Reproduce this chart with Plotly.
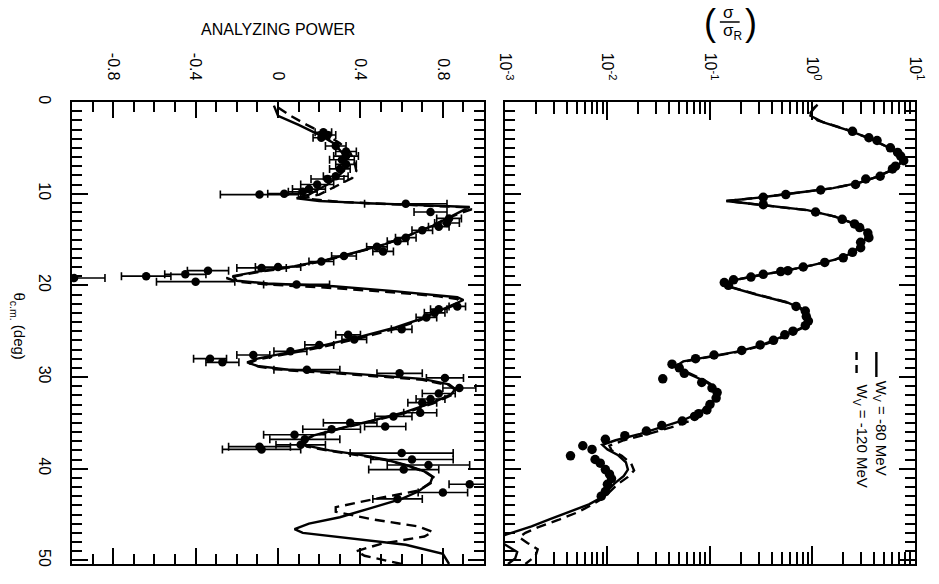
import plotly.graph_objects as go

# ---------------- data ----------------
# Cross section ratio sigma/sigma_R : theta (deg) and log10(sigma/sigma_R)
xs_data_theta = [3.2, 3.9, 4.2, 5.0, 5.5, 5.9, 6.4, 7.0, 7.3, 8.1, 8.4, 9.0, 9.6, 10.1, 10.4,
                 11.2, 12.0, 12.8, 13.3, 13.7, 14.3, 14.8, 15.3, 15.9, 16.4, 17.0, 17.5, 18.0,
                 18.4, 18.5, 18.8, 19.1, 19.4, 19.7, 20.0, 22.3, 22.8, 23.4, 23.9, 24.4, 25.0,
                 25.4, 26.0, 26.5, 27.1, 27.6, 28.0, 28.6, 29.0, 29.6, 30.2, 30.6, 31.2, 31.7,
                 32.3, 33.0, 33.6, 34.0, 34.3, 34.8, 35.3, 35.9, 36.4, 36.8, 37.5, 37.9, 38.6,
                 39.0, 39.4, 40.1, 40.6, 41.1, 41.7, 42.5, 43.0]
xs_data_log10 = [0.39, 0.55, 0.63, 0.76, 0.83, 0.86, 0.89, 0.81, 0.78, 0.66, 0.52, 0.42, 0.08, -0.26, -0.48,
                 -0.48, 0.03, 0.29, 0.41, 0.46, 0.54, 0.55, 0.47, 0.47, 0.39, 0.30, 0.12, -0.09,
                 -0.24, -0.31, -0.48, -0.60, -0.77, -0.86, -0.82, -0.16, -0.07, -0.06, -0.04, -0.07, -0.19,
                 -0.27, -0.38, -0.51, -0.69, -0.96, -1.14, -1.37, -1.30, -1.25, -1.46, -1.08, -0.98, -0.93,
                 -0.94, -1.00, -1.03, -1.11, -1.15, -1.27, -1.47, -1.62, -1.83, -2.02, -2.24, -2.15, -2.36,
                 -2.12, -2.07, -2.02, -1.98, -1.96, -2.00, -2.02, -2.06]

# model curves (theta, log10 sigma/sigma_R)
xs_solid_curve = [(0.3, 0.05), (0.8, 0.0), (1.5, -0.02), (2.2, 0.1), (3.2, 0.38), (4.0, 0.56), (5.0, 0.75),
                  (5.8, 0.85), (6.4, 0.88), (7.0, 0.83), (7.6, 0.74), (8.2, 0.62), (8.8, 0.46), (9.4, 0.2),
                  (9.9, -0.15), (10.4, -0.5), (10.8, -0.84), (11.2, -0.5), (11.8, -0.05), (12.5, 0.22),
                  (13.3, 0.41), (14.0, 0.51), (14.6, 0.54), (15.2, 0.5), (15.9, 0.45), (16.6, 0.36),
                  (17.2, 0.22), (17.8, 0.0), (18.4, -0.26), (18.9, -0.52), (19.4, -0.75), (19.8, -0.86),
                  (20.2, -0.8), (21.0, -0.55), (21.9, -0.24), (22.5, -0.12), (23.3, -0.06), (24.0, -0.06),
                  (24.6, -0.1), (25.2, -0.22), (26.0, -0.38), (26.6, -0.52), (27.2, -0.72), (27.8, -1.02),
                  (28.3, -1.26), (28.8, -1.33), (29.5, -1.24), (30.3, -1.08), (31.0, -0.97), (31.7, -0.93),
                  (32.4, -0.95), (33.2, -1.02), (34.0, -1.12), (34.8, -1.28), (35.5, -1.48), (36.2, -1.68),
                  (36.9, -1.92), (37.4, -2.05), (37.9, -2.0), (38.5, -1.9), (39.3, -1.82), (40.1, -1.8),
                  (40.8, -1.84), (41.6, -1.93), (42.4, -2.0), (43.1, -2.05), (43.9, -2.18), (44.7, -2.38),
                  (45.5, -2.56), (46.3, -2.74), (46.9, -2.9), (47.3, -3.02), (47.8, -3.08), (48.4, -2.98),
                  (49.1, -2.88), (49.8, -2.9), (50.4, -2.97)]
xs_dashed_curve = [(0.5, 0.03), (1.2, -0.02), (2.0, 0.05), (3.0, 0.33), (4.0, 0.56), (5.0, 0.75),
                   (5.8, 0.85), (6.4, 0.88), (7.0, 0.83), (7.6, 0.74), (8.2, 0.62), (8.8, 0.46), (9.4, 0.2),
                   (9.9, -0.15), (10.4, -0.5), (10.8, -0.84), (11.2, -0.5), (11.8, -0.05), (12.5, 0.22),
                   (13.3, 0.41), (14.0, 0.51), (14.6, 0.54), (15.2, 0.5), (15.9, 0.45), (16.6, 0.36),
                   (17.2, 0.22), (17.8, 0.0), (18.4, -0.26), (18.9, -0.52), (19.4, -0.75), (19.8, -0.85),
                   (20.2, -0.79), (21.0, -0.54), (21.9, -0.23), (22.5, -0.11), (23.3, -0.05), (24.0, -0.05),
                   (24.6, -0.09), (25.2, -0.2), (26.0, -0.36), (26.6, -0.5), (27.2, -0.7), (27.8, -1.0),
                   (28.3, -1.24), (28.8, -1.31), (29.5, -1.22), (30.3, -1.06), (31.0, -0.96), (31.7, -0.92),
                   (32.4, -0.93), (33.2, -1.0), (34.0, -1.08), (34.8, -1.2), (35.5, -1.38), (36.2, -1.6),
                   (36.9, -1.84), (37.5, -1.98), (38.0, -1.96), (38.6, -1.86), (39.4, -1.77), (40.2, -1.74),
                   (40.9, -1.8), (41.7, -1.9), (42.5, -1.98), (43.2, -2.04), (44.0, -2.16), (44.8, -2.3),
                   (45.6, -2.48), (46.4, -2.68), (47.0, -2.8), (47.5, -2.86), (48.1, -2.78), (48.8, -2.68),
                   (49.5, -2.7), (50.4, -2.8)]

# Analyzing power data: theta (deg), A_y, error
ap_data_theta = [3.3, 3.6, 3.9, 4.8, 5.4, 5.9, 6.3, 6.8, 7.3, 8.1, 8.4, 9.0, 9.5, 9.8, 10.0, 10.1,
                 11.1, 12.0, 12.7, 13.2, 13.6, 14.0, 14.8, 15.2, 15.8, 16.3, 16.8, 17.4, 18.0, 18.1,
                 18.4, 18.8, 19.0, 19.2, 19.6, 19.9, 22.3, 22.6, 23.0, 23.5, 24.8, 25.4, 25.9, 26.5,
                 27.2, 27.6, 28.0, 28.4, 29.2, 29.6, 30.1, 31.2, 31.8, 32.4, 32.8, 33.9, 34.3, 35.0,
                 35.4, 35.7, 36.3, 36.8, 37.4, 37.6, 37.9, 38.3, 39.0, 39.6, 40.1, 41.7, 42.6, 43.3]
ap_data_value = [0.22, 0.24, 0.21, 0.28, 0.33, 0.33, 0.31, 0.33, 0.30, 0.28, 0.24, 0.19, 0.15, 0.12, 0.03, -0.09,
                 0.62, 0.74, 0.83, 0.82, 0.78, 0.70, 0.62, 0.58, 0.48, 0.51, 0.32, 0.21, 0.00, -0.08,
                 -0.34, -0.45, -0.64, -0.99, -0.40, 0.09, 0.87, 0.78, 0.76, 0.72, 0.60, 0.34, 0.37, 0.20,
                 0.06, -0.12, -0.33, -0.27, 0.14, 0.59, 0.81, 0.88, 0.78, 0.74, 0.70, 0.69, 0.56, 0.35,
                 0.52, 0.26, 0.08, 0.13, 0.11, -0.09, -0.08, 0.60, 0.65, 0.73, 0.61, 0.93, 0.80, 0.58]
ap_data_error = [0.04, 0.04, 0.04, 0.05, 0.05, 0.06, 0.06, 0.05, 0.05, 0.06, 0.08, 0.08, 0.08, 0.07, 0.08, 0.19,
                 0.20, 0.08, 0.06, 0.06, 0.05, 0.05, 0.05, 0.05, 0.05, 0.05, 0.06, 0.06, 0.11, 0.12,
                 0.10, 0.10, 0.12, 0.15, 0.19, 0.16, 0.04, 0.04, 0.05, 0.05, 0.05, 0.06, 0.06, 0.07,
                 0.08, 0.08, 0.08, 0.08, 0.16, 0.11, 0.09, 0.08, 0.08, 0.07, 0.07, 0.08, 0.09, 0.13,
                 0.10, 0.14, 0.15, 0.17, 0.12, 0.15, 0.19, 0.25, 0.20, 0.20, 0.17, 0.10, 0.12, 0.12]

ap_solid_curve = [(0.4, -0.02), (1.5, 0.0), (2.5, 0.1), (3.7, 0.21), (4.5, 0.27), (5.5, 0.31), (6.5, 0.33),
                  (7.5, 0.32), (8.3, 0.28), (9.0, 0.24), (9.6, 0.19), (10.1, 0.15), (10.5, 0.09), (10.8, 0.2),
                  (11.0, 0.4), (11.25, 0.75), (11.45, 0.93), (11.8, 0.9), (12.6, 0.83), (13.5, 0.75),
                  (14.5, 0.64), (15.5, 0.52), (16.5, 0.36), (17.3, 0.22), (17.9, 0.08), (18.5, -0.1),
                  (19.0, -0.22), (19.5, -0.2), (19.8, -0.05), (20.1, 0.27), (20.6, 0.55), (21.0, 0.75),
                  (21.3, 0.87), (21.6, 0.9), (22.0, 0.86), (22.6, 0.8), (23.6, 0.7), (24.6, 0.57),
                  (25.6, 0.4), (26.6, 0.21), (27.4, 0.04), (28.0, -0.1), (28.4, -0.15), (28.8, -0.1),
                  (29.2, 0.05), (29.5, 0.28), (30.2, 0.7), (30.8, 0.83), (31.3, 0.86), (31.9, 0.84),
                  (32.8, 0.75), (33.8, 0.62), (34.8, 0.45), (35.6, 0.3), (36.4, 0.17), (37.0, 0.12),
                  (37.5, 0.14), (38.0, 0.25), (38.5, 0.4), (39.0, 0.52), (39.6, 0.62), (40.3, 0.71),
                  (40.9, 0.75), (41.5, 0.74), (42.5, 0.68), (43.3, 0.6), (44.3, 0.45), (45.3, 0.3),
                  (46.0, 0.15), (46.6, 0.08), (47.0, 0.12), (47.6, 0.35), (48.3, 0.62), (49.3, 0.8),
                  (50.4, 0.83)]
ap_dashed_curve = [(0.6, 0.0), (1.5, 0.06), (2.5, 0.14), (3.5, 0.23), (4.5, 0.3), (5.5, 0.35), (6.5, 0.37),
                   (7.5, 0.38), (8.3, 0.36), (9.0, 0.3), (9.6, 0.25), (10.1, 0.2), (10.5, 0.12), (10.9, 0.3),
                   (11.2, 0.6), (11.5, 0.92), (11.7, 0.94), (12.0, 0.9), (12.7, 0.82), (13.6, 0.74),
                   (14.6, 0.63), (15.6, 0.51), (16.6, 0.35), (17.4, 0.21), (18.0, 0.07), (18.6, -0.11),
                   (19.2, -0.25), (19.6, -0.2), (19.9, -0.06), (20.3, 0.27), (20.8, 0.58), (21.2, 0.78),
                   (21.5, 0.87), (21.8, 0.88), (22.3, 0.84), (22.8, 0.79), (23.8, 0.69), (24.8, 0.56),
                   (25.8, 0.39), (26.8, 0.2), (27.5, 0.03), (28.1, -0.1), (28.5, -0.14), (28.9, -0.09),
                   (29.3, 0.06), (29.6, 0.28), (30.3, 0.7), (30.9, 0.83), (31.4, 0.86), (32.0, 0.84),
                   (32.9, 0.75), (33.9, 0.62), (34.9, 0.44), (35.7, 0.29), (36.5, 0.16), (37.1, 0.11),
                   (37.6, 0.14), (38.1, 0.26), (38.6, 0.41), (39.1, 0.53), (39.7, 0.63), (40.4, 0.72),
                   (41.0, 0.76), (41.6, 0.74), (42.4, 0.68), (43.3, 0.47), (44.2, 0.28), (44.7, 0.28),
                   (45.5, 0.45), (46.3, 0.68), (46.9, 0.75), (47.4, 0.71), (48.2, 0.5), (49.0, 0.38),
                   (49.5, 0.42), (50.4, 0.6)]

theta_ticks = [0, 10, 20, 30, 40, 50]
ap_ticks = [-0.8, -0.4, 0, 0.4, 0.8]
ap_ticktext = ["-0.8", "-0.4", "0", "0.4", "0.8"]
xs_ticks = [0.001, 0.01, 0.1, 1, 10]
xs_ticktext = ["10<sup>-3</sup>", "10<sup>-2</sup>", "10<sup>-1</sup>", "10<sup>0</sup>", "10<sup>1</sup>"]
xs_minor = [k * 10.0 ** e for e in (-3, -2, -1, 0) for k in range(2, 10)]

# ---------------- figure ----------------
W, H = 939, 584
L, R, T, B = 72, 16, 102, 20
PW, PH = W - L - R, H - T - B


def px(x):
    return (x - L) / PW


def py(y):
    return (H - B - y) / PH


BLACK = "black"
FONT = "Liberation Sans, Arial, Helvetica, sans-serif"

fig = go.Figure()

# analyzing power panel (left)
fig.add_trace(go.Scatter(x=[v for _, v in ap_solid_curve], y=[t for t, _ in ap_solid_curve],
                         mode="lines", line=dict(color=BLACK, width=2.4), xaxis="x", yaxis="y"))
fig.add_trace(go.Scatter(x=[v for _, v in ap_dashed_curve], y=[t for t, _ in ap_dashed_curve],
                         mode="lines", line=dict(color=BLACK, width=2.4, dash="10px,6px"),
                         xaxis="x", yaxis="y"))
fig.add_trace(go.Scatter(x=ap_data_value, y=ap_data_theta, mode="markers",
                         marker=dict(color=BLACK, size=8.5),
                         error_x=dict(type="data", array=ap_data_error, color=BLACK,
                                      thickness=1.6, width=4),
                         xaxis="x", yaxis="y", cliponaxis=True))

# cross-section panel (right)
fig.add_trace(go.Scatter(x=[10 ** v for _, v in xs_solid_curve], y=[t for t, _ in xs_solid_curve],
                         mode="lines", line=dict(color=BLACK, width=2.4), xaxis="x2", yaxis="y2"))
fig.add_trace(go.Scatter(x=[10 ** v for _, v in xs_dashed_curve], y=[t for t, _ in xs_dashed_curve],
                         mode="lines", line=dict(color=BLACK, width=2.4, dash="10px,6px"),
                         xaxis="x2", yaxis="y2"))
fig.add_trace(go.Scatter(x=[10 ** v for v in xs_data_log10], y=xs_data_theta, mode="markers",
                         marker=dict(color=BLACK, size=9.5), xaxis="x2", yaxis="y2"))

tickfont = dict(family=FONT, size=16, color=BLACK)
common = dict(showline=True, linecolor=BLACK, linewidth=2, mirror="allticks", ticks="inside",
              tickcolor=BLACK, tickwidth=1.5, showgrid=False, zeroline=False)

fig.update_layout(
    width=W, height=H,
    margin=dict(l=L, r=R, t=T, b=B, pad=0),
    paper_bgcolor="white", plot_bgcolor="white",
    showlegend=False,
    font=dict(family=FONT, color=BLACK),
    xaxis=dict(domain=[0, px(488)], range=[-1, 1], side="top", anchor="y",
               tickvals=ap_ticks, ticktext=ap_ticktext, tickangle=90, ticklen=16,
               tickfont=tickfont, ticklabelstandoff=14,
               minor=dict(ticks="inside", dtick=0.1, tick0=0, ticklen=10, tickwidth=1.5,
                          tickcolor=BLACK, showgrid=False),
               **common),
    yaxis=dict(domain=[0, 1], range=[50.4, 0], anchor="x",
               tickvals=theta_ticks, tickangle=90, ticklen=16, tickfont=tickfont,
               ticklabelstandoff=12,
               minor=dict(ticks="inside", dtick=1, tick0=0, ticklen=10, tickwidth=1.5,
                          tickcolor=BLACK, showgrid=False),
               **common),
    xaxis2=dict(domain=[px(509), 1], type="log", range=[-3, 1], side="top", anchor="y2",
                tickvals=xs_ticks, ticktext=xs_ticktext, tickangle=90, ticklen=18,
                tickfont=tickfont, ticklabelstandoff=14,
                minor=dict(ticks="inside", tickvals=xs_minor, ticklen=12, tickwidth=1.5,
                           tickcolor=BLACK, showgrid=False),
                **common),
    yaxis2=dict(domain=[0, 1], range=[50.4, 0], anchor="x2", matches="y",
                tickvals=theta_ticks, showticklabels=False, ticklen=16,
                minor=dict(ticks="inside", dtick=1, tick0=0, ticklen=10, tickwidth=1.5,
                           tickcolor=BLACK, showgrid=False),
                **common),
)


def note(text, x, y, size, angle=0):
    return dict(text=text, x=px(x), y=py(y), xref="paper", yref="paper", showarrow=False,
                xanchor="center", yanchor="middle", textangle=angle,
                font=dict(family=FONT, size=size, color=BLACK))


ann = [
    note("ANALYZING POWER", 280, 30, 16),
    note("θ<sub>c.m.</sub> (deg)", 18, 326, 15, 90),
    # (sigma / sigma_R)
    note("(", 716, 22, 36),
    note(")", 757, 22, 36),
    note("σ", 735, 12, 17),
    note("σ<sub>R</sub>", 739, 32, 17),
    # legend
    note("W<sub>V</sub> = -80 MeV", 889, 428, 15, 90),
    note("W<sub>V</sub> = -120 MeV", 869, 436, 15, 90),
]
fig.update_layout(annotations=ann)

shapes = [
    dict(type="line", xref="paper", yref="paper", x0=px(726), x1=px(746), y0=py(22), y1=py(22),
         line=dict(color=BLACK, width=1.5)),
    dict(type="line", xref="paper", yref="paper", x0=px(884), x1=px(884), y0=py(352), y1=py(377),
         line=dict(color=BLACK, width=2.4)),
    dict(type="line", xref="paper", yref="paper", x0=px(864), x1=px(864), y0=py(352), y1=py(377),
         line=dict(color=BLACK, width=2.4, dash="8px,5px")),
]
fig.update_layout(shapes=shapes)

fig.write_html("out.html")
